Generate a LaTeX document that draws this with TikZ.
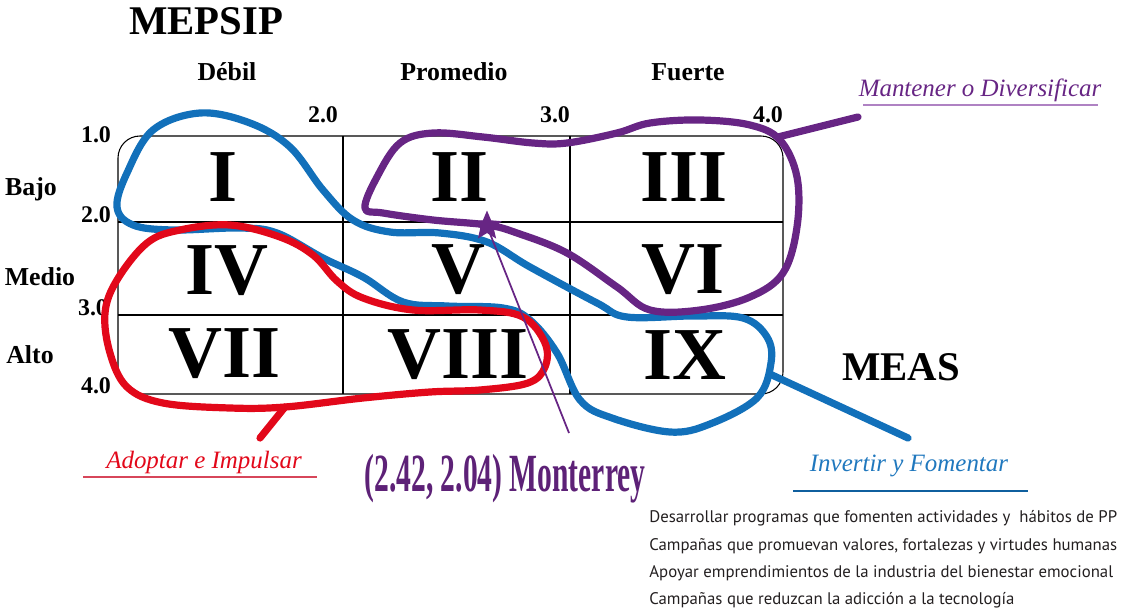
\documentclass[tikz,border=0pt]{standalone}
\usepackage{fontspec}
\setmainfont{Liberation Serif}
\newfontfamily\bodyfont{PT Sans}
\usepackage{graphicx}
\usetikzlibrary{shapes.geometric}
\definecolor{azul}{RGB}{18,112,186}
\definecolor{azultxt}{RGB}{32,120,190}
\definecolor{rojo}{RGB}{226,8,26}
\definecolor{morado}{RGB}{103,37,132}
\definecolor{moradoclaro}{RGB}{175,130,195}
\definecolor{rojoclaro}{RGB}{215,70,90}
\definecolor{grisoscuro}{RGB}{35,31,32}

\begin{document}
\begin{tikzpicture}[x=0.02cm,y=-0.02cm,
    numeral/.style={font=\fontsize{42.5}{43}\selectfont\bfseries, inner sep=0pt},
    axisnum/.style={font=\fontsize{13.6}{14}\selectfont\bfseries, inner sep=0pt},
    head/.style={font=\fontsize{14.7}{15}\selectfont\bfseries, inner sep=0pt},
    bigtitle/.style={font=\fontsize{23.2}{24}\selectfont\bfseries, inner sep=0pt},
    lazo/.style={line width=4.1pt, line cap=round, line join=round},
    etiqueta/.style={font=\fontsize{14.2}{15}\selectfont\itshape, inner sep=0pt},
    texto/.style={font=\bodyfont\fontsize{9.55}{11}\selectfont, text=grisoscuro, anchor=west, inner sep=0pt}]
        \useasboundingbox (0,0) rectangle (1123,612);
        % Matrix frame
        \draw[line width=0.6pt, rounded corners=0.44cm] (118,136) rectangle (783,394);
        \draw[line width=0.6pt] (343,136) -- (343,394);
        \draw[line width=0.6pt] (570,136) -- (570,394);
        \draw[line width=0.6pt] (118,222) -- (783,222);
        \draw[line width=0.6pt] (118,315) -- (783,315);
        % Titles and headers
        \node[bigtitle] (mepsip) at (206,21) {MEPSIP};
        \node[bigtitle] (meas) at (901,367) {MEAS};
        \node[head] (debil) at (227,72) {Débil};
        \node[head] (promedio) at (454,72) {Promedio};
        \node[head] (fuerte) at (688,72) {Fuerte};
        \node[head] (bajo) at (31,189) {Bajo};
        \node[head] (medio) at (40,277) {Medio};
        \node[head] (alto) at (30,355) {Alto};
        % Scale values
        \node[axisnum] (x2) at (323,115) {2.0};
        \node[axisnum] (x3) at (555,115) {3.0};
        \node[axisnum] (x4) at (768,115) {4.0};
        \node[axisnum] (y1) at (96,135) {1.0};
        \node[axisnum] (y2) at (96,215) {2.0};
        \node[axisnum] (y3) at (93,308) {3.0};
        \node[axisnum] (y4) at (96,386) {4.0};
        % Cells
        \node[numeral] (c1) at (223,177) {I};
        \node[numeral] (c2) at (460,177) {II};
        \node[numeral] (c3) at (684,177) {III};
        \node[numeral] (c4) at (227,271) {IV};
        \node[numeral] (c5) at (458,270) {V};
        \node[numeral] (c6) at (683,270) {VI};
        \node[numeral] (c7) at (225,354) {VII};
        \node[numeral] (c8) at (458,355) {VIII};
        \node[numeral] (c9) at (685,355) {IX};
        % Loops
        \draw[lazo, azul] plot[smooth cycle, tension=0.6] coordinates {
            (200,113) (250,123) (290,147) (323,190) (353,220) (390,232) (440,233)
            (487,242) (530,267) (597,303) (627,317) (693,316) (743,318) (767,337)
            (771,363) (757,398) (710,424) (670,432) (612,418) (580,400) (557,353)
            (530,320) (503,308) (447,306) (403,302) (363,277) (323,258) (277,233)
            (240,228) (173,230) (133,225) (117,207) (127,173) (153,130)};
        \draw[lazo, rojo] plot[smooth cycle, tension=0.6] coordinates {
            (285,407) (230,408) (163,403) (127,387) (110,353) (105,313) (117,280)
            (147,243) (180,230) (230,225) (280,237) (313,255) (337,281) (363,298)
            (413,310) (480,310) (523,317) (545,343) (545,367) (528,383) (480,390)
            (430,392) (363,398)};
        \draw[lazo, morado] plot[smooth cycle, tension=0.6] coordinates {
            (365,208) (377,177) (400,143) (433,133) (483,137) (533,143) (567,143)
            (617,133) (650,123) (700,120) (750,125) (780,140) (797,177) (797,227)
            (783,273) (750,297) (700,310) (650,310) (617,287) (567,253) (517,233)
            (487,225) (433,220) (383,213)};
        % Tails to the labels
        \coordinate (bt0) at (772,375);
        \coordinate (bt1) at (908,438);
        \coordinate (rt0) at (285,407);
        \coordinate (rt1) at (260,438);
        \coordinate (pt0) at (778,137);
        \coordinate (pt1) at (858,117);
        \draw[lazo, azul] (bt0) -- (bt1);
        \draw[lazo, rojo] (rt0) -- (rt1);
        \draw[lazo, morado] (pt0) -- (pt1);
        % Position of the city
        \node[star, star points=5, star point ratio=2.2, fill=morado, minimum size=0.62cm, inner sep=0pt] (mty) at (487,226) {};
        \coordinate (mtyend) at (569,433);
        \draw[morado, line width=1pt] (mty.center) -- (mtyend);
        % Labels
        \node[etiqueta, text=morado] (mantener) at (980,90) {Mantener o Diversificar};
        \draw[moradoclaro, line width=1.2pt] (863,105) -- (1098,105);
        \node[etiqueta, text=rojo] (adoptar) at (204,462) {Adoptar e Impulsar};
        \draw[rojoclaro, line width=1.2pt] (83,477) -- (317,477);
        \node[etiqueta, text=azultxt] (invertir) at (909,466) {Invertir y Fomentar};
        \draw[azul!85!black, line width=1.2pt] (793,491) -- (1028,491);
        \node[text=morado!90!black, inner sep=0pt] (monterrey) at (505,479)
            {\scalebox{0.55}[1]{\fontsize{30.6}{31}\selectfont\bfseries (2.42, 2.04) Monterrey}};
        % Strategies
        \node[texto] (s1) at (649,518) {Desarrollar programas que fomenten actividades y~ hábitos de PP};
        \node[texto] (s2) at (649,546) {Campañas que promuevan valores, fortalezas y virtudes humanas};
        \node[texto] (s3) at (649,573) {Apoyar emprendimientos de la industria del bienestar emocional};
        \node[texto] (s4) at (649,600) {Campañas que reduzcan la adicción a la tecnología};
\end{tikzpicture}
\end{document}
